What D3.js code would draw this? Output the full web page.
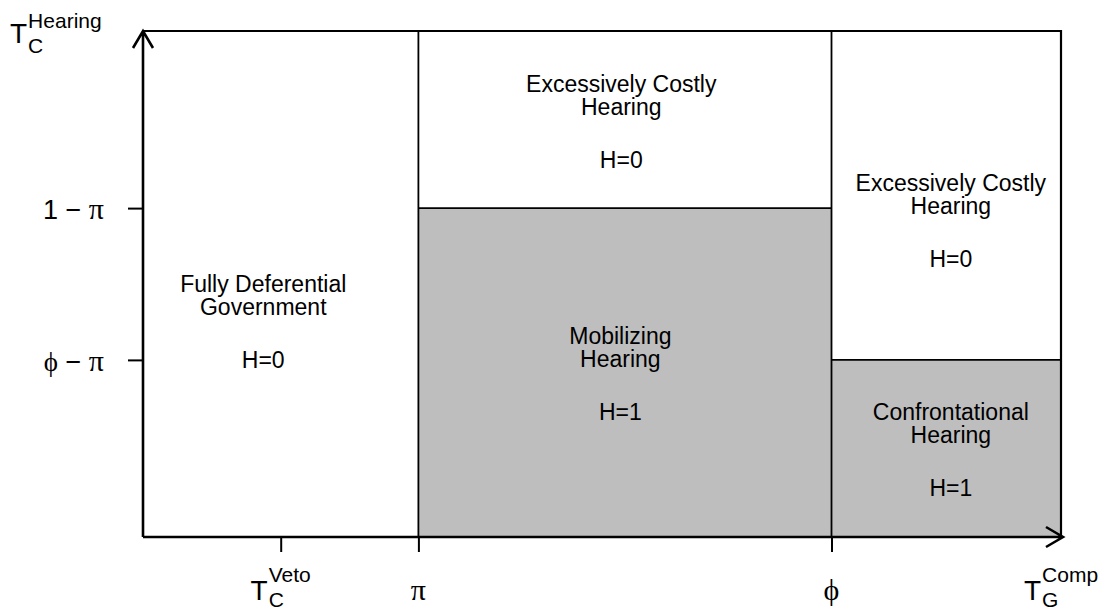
<!DOCTYPE html>
<html>
<head>
<meta charset="utf-8">
<script src="https://cdn.jsdelivr.net/npm/d3@7"></script>
<style>
  body { margin: 0; background: #fff; }
  svg text { font-family: "Liberation Sans", Arial, sans-serif; fill: #000; }
  .greek { font-family: "Liberation Serif", "DejaVu Serif", serif; }
</style>
</head>
<body>
<div id="chart"></div>
<script>
// breakpoints on each axis (schematic units, 0..1)
const xTickVals = [0.15, 0.30, 0.75];
const xTickNames = ["veto", "π", "ϕ"];
const yTickVals = [0.65, 0.35];
const yTickNames = [["1 − ", "π"], ["ϕ − ", "π"]];

// shaded (H=1) regions
const shadeX0 = [0.30, 0.75];
const shadeX1 = [0.75, 1.00];
const shadeY1 = [0.65, 0.35];

// region labels
const regionLines = [
  ["Fully Deferential", "Government"],
  ["Excessively Costly", "Hearing"],
  ["Mobilizing", "Hearing"],
  ["Excessively Costly", "Hearing"],
  ["Confrontational", "Hearing"]
];
const regionH = ["H=0", "H=0", "H=1", "H=0", "H=1"];
const regionX = [0.131, 0.521, 0.520, 0.880, 0.880];
const regionY = [0.484, 0.879, 0.382, 0.684, 0.231];

const width = 1104, height = 610;
const margin = { top: 31, right: 43, bottom: 73, left: 143 };

const svg = d3.select("#chart").append("svg")
  .attr("width", width)
  .attr("height", height);

const x = d3.scaleLinear().domain([0, 1]).range([margin.left, width - margin.right]);
const y = d3.scaleLinear().domain([0, 1]).range([height - margin.bottom, margin.top]);

// shaded areas
svg.selectAll("rect.shade")
  .data(shadeX0)
  .join("rect")
  .attr("class", "shade")
  .attr("x", (d, i) => x(d))
  .attr("y", (d, i) => y(shadeY1[i]))
  .attr("width", (d, i) => x(shadeX1[i]) - x(d))
  .attr("height", (d, i) => y(0) - y(shadeY1[i]))
  .attr("fill", "#bebebe");

// interior division lines
const segs = [
  [xTickVals[1], 0, xTickVals[1], 1],
  [xTickVals[2], 0, xTickVals[2], 1],
  [xTickVals[1], yTickVals[0], xTickVals[2], yTickVals[0]],
  [xTickVals[2], yTickVals[1], 1, yTickVals[1]]
];
svg.selectAll("line.div")
  .data(segs)
  .join("line")
  .attr("x1", d => x(d[0])).attr("y1", d => y(d[1]))
  .attr("x2", d => x(d[2])).attr("y2", d => y(d[3]))
  .attr("stroke", "#000").attr("stroke-width", 1.8);

// top and right border
svg.append("path")
  .attr("d", `M${x(0)},${y(1)}H${x(1)}V${y(0)}`)
  .attr("fill", "none").attr("stroke", "#000").attr("stroke-width", 2.2);

// axes with ticks only
const gx = svg.append("g")
  .attr("transform", `translate(0,${y(0)})`)
  .call(d3.axisBottom(x).tickValues(xTickVals).tickSize(15).tickSizeOuter(0).tickFormat(() => ""));
const gy = svg.append("g")
  .attr("transform", `translate(${x(0)},0)`)
  .call(d3.axisLeft(y).tickValues(yTickVals).tickSize(15).tickSizeOuter(0).tickFormat(() => ""));
[gx, gy].forEach(g => {
  g.select(".domain").remove();
  g.selectAll(".tick line").attr("stroke", "#000").attr("stroke-width", 2);
});

// axis lines with arrow heads
const ah = 17, aw = 10;
const xt = x(1) + 2, yt = y(1);
svg.append("path")
  .attr("d", `M${x(0)},${y(0)}H${xt}M${xt - ah},${y(0) - aw}L${xt},${y(0)}L${xt - ah},${y(0) + aw}`)
  .attr("fill", "none").attr("stroke", "#000").attr("stroke-width", 2.6);
svg.append("path")
  .attr("d", `M${x(0)},${y(0)}V${yt}M${x(0) - aw},${yt + ah}L${x(0)},${yt}L${x(0) + aw},${yt + ah}`)
  .attr("fill", "none").attr("stroke", "#000").attr("stroke-width", 2.6);

// T with sub- and superscript
function tLabel(px, py, sub, sup, supDy, subDy, centered) {
  const g = svg.append("g");
  const t = g.append("text").attr("x", 0).attr("y", 0).attr("font-size", 28).text("T");
  const wT = t.node().getComputedTextLength();
  const s1 = g.append("text").attr("x", wT + 1).attr("y", supDy).attr("font-size", 21).text(sup);
  const s2 = g.append("text").attr("x", wT + 1).attr("y", subDy).attr("font-size", 21).text(sub);
  const w = wT + 1 + Math.max(s1.node().getComputedTextLength(), s2.node().getComputedTextLength());
  g.attr("transform", `translate(${centered ? px - w / 2 : px},${py})`);
}

const xLabBase = y(0) + 63;
tLabel(x(xTickVals[0]), xLabBase, "C", "Veto", -18, 7, true);
tLabel(x(1), xLabBase, "G", "Comp", -18, 7, true);
tLabel(10, margin.top + 12, "C", "Hearing", -15, 10, false);

xTickNames.slice(1).forEach((nm, i) => {
  svg.append("text")
    .attr("class", "greek")
    .attr("x", x(xTickVals[i + 1]))
    .attr("y", xLabBase)
    .attr("text-anchor", "middle")
    .attr("font-size", 30)
    .text(nm);
});

yTickNames.forEach((nm, i) => {
  const t = svg.append("text")
    .attr("x", x(0) - 39)
    .attr("y", y(yTickVals[i]) + 11)
    .attr("text-anchor", "end")
    .attr("font-size", 27);
  t.append("tspan").attr("class", i === 1 ? "greek" : null).text(nm[0].slice(0, 1));
  t.append("tspan").text(nm[0].slice(1));
  t.append("tspan").attr("class", "greek").attr("font-size", 30).text(nm[1]);
});

// region labels
regionLines.forEach((lines, i) => {
  const cx = x(regionX[i]), by = y(regionY[i]);
  lines.forEach((ln, j) => {
    svg.append("text")
      .attr("x", cx).attr("y", by + j * 23)
      .attr("text-anchor", "middle")
      .attr("font-size", 23)
      .text(ln);
  });
  svg.append("text")
    .attr("x", cx).attr("y", by + 23 + 53)
    .attr("text-anchor", "middle")
    .attr("font-size", 23)
    .text(regionH[i]);
});
</script>
</body>
</html>
